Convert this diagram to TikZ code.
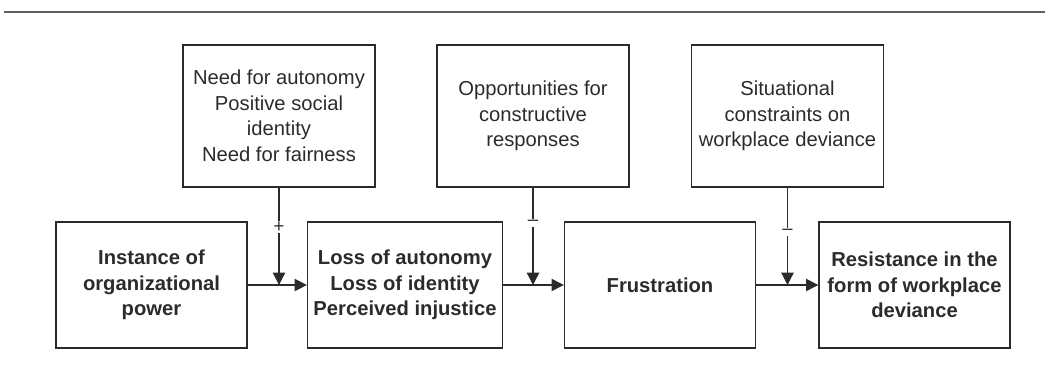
\documentclass[tikz,border=0pt]{standalone}
\usepackage{fontspec}
\setmainfont{Liberation Sans}
\usetikzlibrary{arrows.meta,positioning}
\definecolor{ink}{HTML}{2B2B2B}

\begin{document}
\begin{tikzpicture}[x=0.2mm, y=-0.2mm,
  factor/.style={draw=ink, text=ink, line width=0.8pt, minimum width=3.82cm,
    minimum height=2.52cm, align=center,
    font=\fontsize{11.5}{14.5}\selectfont\bfseries},
  moderator/.style={draw=ink, text=ink, line width=0.8pt, minimum width=3.84cm,
    minimum height=2.84cm, align=center,
    font=\fontsize{11.5}{14.5}\selectfont},
  flow/.style={draw=ink, line width=0.75pt, -{Triangle[length=7pt,width=7pt]}},
  sign/.style={fill=white, text=ink, inner sep=0.6pt,
    font=\fontsize{10.5}{11}\selectfont}]
  \useasboundingbox (0,0) rectangle (1045,379);
  % Rule above the figure
  \draw[ink!75, line width=1.3pt] (4,12) -- (1045,12);
  % Moderators
  \node[moderator] (need) at (279,116)
    {Need for autonomy\\Positive social\\identity\\Need for fairness};
  \node[moderator] (opp) at (533,116)
    {Opportunities for\\constructive\\responses};
  \node[moderator] (constr) at (787.5,116)
    {Situational\\constraints on\\workplace deviance};
  % Main chain
  \node[factor] (power) at (151.5,285) {Instance of\\organizational\\power};
  \node[factor] (loss) at (405,285)
    {Loss of autonomy\\Loss of identity\\Perceived injustice};
  \node[factor] (frust) at (660,285) {Frustration};
  \node[factor] (resist) at (914.5,285)
    {Resistance in the\\form of workplace\\deviance};
  \draw[flow] (power) -- (loss);
  \draw[flow] (loss) -- (frust);
  \draw[flow] (frust) -- (resist);
  % Moderating arrows
  \coordinate (j1) at (need.south |- power.east);
  \coordinate (j2) at (opp.south |- loss.east);
  \coordinate (j3) at (constr.south |- frust.east);
  \draw[flow] (need) -- (j1);
  \draw[flow] (opp) -- (j2);
  \draw[flow] (constr) -- (j3);
  \node[sign] (s1) at (need.south |- 0,227) {+};
  \node[sign] (s2) at (opp.south |- 0,223) {--};
  \node[sign] (s3) at (constr.south |- 0,232) {--};
\end{tikzpicture}
\end{document}
